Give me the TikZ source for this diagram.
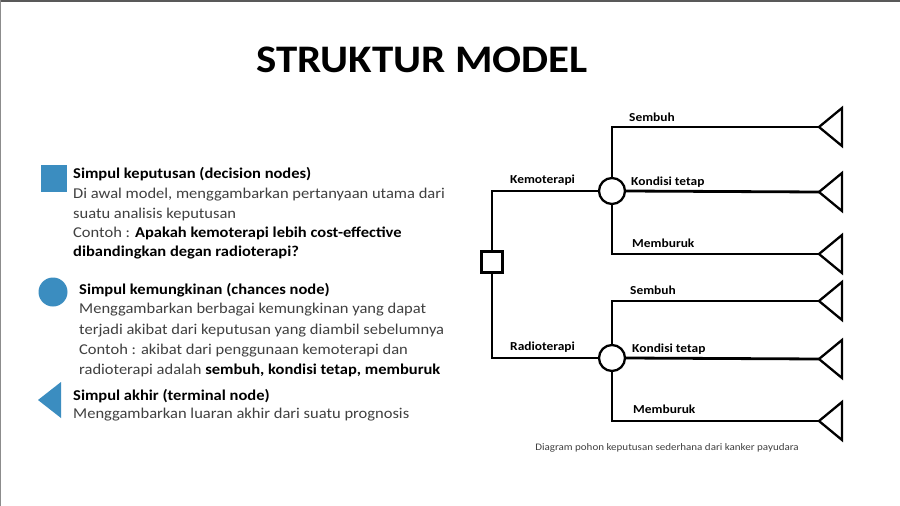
\documentclass[tikz,border=0pt]{standalone}
\usepackage{fontspec}
\setmainfont[FakeStretch=1.1]{Carlito}
\definecolor{legendblue}{HTML}{3B8DC0}
\definecolor{bodygray}{HTML}{404040}
\begin{document}
\begin{tikzpicture}[x=1pt,y=-1pt,
  treeline/.style={line width=2.8pt,line join=miter},
  branchlabel/.style={anchor=base west,inner sep=0pt,font=\fontsize{12.2}{14}\selectfont\bfseries},
  bodyline/.style={anchor=base west,inner sep=0pt,text=bodygray,font=\fontsize{15}{18}\selectfont},
  headline/.style={anchor=base west,inner sep=0pt,text=black,font=\fontsize{15}{18}\selectfont\bfseries},
  chance/.style={circle,draw,line width=2.3pt,minimum size=26pt,inner sep=0pt,fill=white},
  decision/.style={rectangle,draw,line width=2.3pt,minimum size=21pt,inner sep=0pt,fill=white}]
\useasboundingbox (0,0) rectangle (900,506);
\fill[white] (0,0) rectangle (900,506);
\draw[line width=2.5pt,color=black!65] (0,1) -- (900,1);
\draw[line width=1.5pt,color=black!45] (0.7,0) -- (0.7,506);

% title
\node[inner sep=0pt,font=\fontsize{39}{40}\selectfont\bfseries] (title) at (422,60) {STRUKTUR MODEL};

% legend: decision node
\node[rectangle,fill=legendblue,minimum width=26pt,minimum height=27pt,inner sep=0pt] (lsq) at (54,178) {};
\node[headline] (l1a) at (73,178) {Simpul keputusan (decision nodes)};
\node[bodyline] (l1b) at (73,198) {Di awal model, menggambarkan pertanyaan utama dari};
\node[bodyline] (l1c) at (73,218) {suatu analisis keputusan};
\node[bodyline] (l1d) at (73,237) {Contoh : \textcolor{black}{\bfseries Apakah kemoterapi lebih cost-effective}};
\node[headline] (l1e) at (73,256) {dibandingkan degan radioterapi?};

% legend: chance node
\node[circle,fill=legendblue,minimum size=29pt,inner sep=0pt] (lci) at (53,292) {};
\node[headline] (l2a) at (79,294) {Simpul kemungkinan (chances node)};
\node[bodyline] (l2b) at (79,313) {Menggambarkan berbagai kemungkinan yang dapat};
\node[bodyline] (l2c) at (79,334) {terjadi akibat dari keputusan yang diambil sebelumnya};
\node[bodyline] (l2d) at (79,354) {Contoh : akibat dari penggunaan kemoterapi dan};
\node[bodyline] (l2e) at (79,374) {radioterapi adalah \textcolor{black}{\bfseries sembuh, kondisi tetap, memburuk}};

% legend: terminal node
\coordinate (ltri) at (38,400);
\fill[legendblue] (ltri) -- ++(23,-18) -- ++(0,36) -- cycle;
\node[headline] (l3a) at (73,400) {Simpul akhir (terminal node)};
\node[bodyline] (l3b) at (73,418) {Menggambarkan luaran akhir dari suatu prognosis};

% decision tree
\node[decision] (d) at (492,262) {};
\node[chance] (c1) at (612,191) {};
\node[chance] (c2) at (612,358) {};
\coordinate (t1) at (819,127);
\coordinate (t2) at (819,192);
\coordinate (t3) at (819,254);
\coordinate (t4) at (819,301);
\coordinate (t5) at (819,359);
\coordinate (t6) at (819,421);

\draw[treeline] (d.north) |- (c1.west);
\draw[treeline] (d.south) |- (c2.west);
\draw[treeline] (c1.north) |- (t1);
\draw[treeline] (c1.east) -- (t2);
\draw[treeline] (c1.south) |- (t3);
\draw[treeline] (c2.north) |- (t4);
\draw[treeline] (c2.east) -- (t5);
\draw[treeline] (c2.south) |- (t6);
\foreach \t in {t1,t2,t3,t4,t5,t6}{
  \draw[line width=2.3pt,line join=miter] (\t) -- ++(23,-19) -- ++(0,38) -- cycle;
}

\node[branchlabel] (lk) at (510,183) {Kemoterapi};
\node[branchlabel] (lr) at (510,350) {Radioterapi};
\node[branchlabel] (s1) at (629,121) {Sembuh};
\node[branchlabel] (k1) at (631,185) {Kondisi tetap};
\node[branchlabel] (m1) at (632,247) {Memburuk};
\node[branchlabel] (s2) at (630,294) {Sembuh};
\node[branchlabel] (k2) at (632,352) {Kondisi tetap};
\node[branchlabel] (m2) at (633,413) {Memburuk};

\node[inner sep=0pt,text=black!75,font=\fontsize{10}{12}\selectfont] (cap) at (667,448) {Diagram pohon keputusan sederhana dari kanker payudara};
\end{tikzpicture}
\end{document}
